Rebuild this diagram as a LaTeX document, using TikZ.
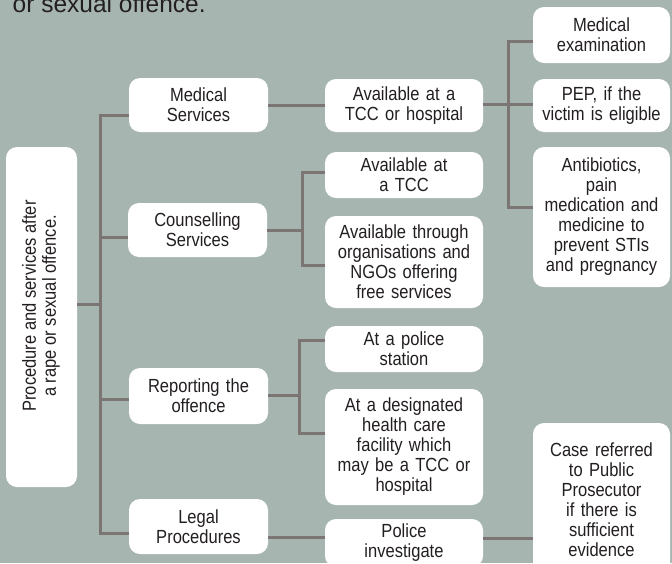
\documentclass[tikz,border=0pt]{standalone}
\usepackage{fontspec}
\setmainfont[FakeStretch=0.87]{Liberation Sans}
\newfontfamily\titlefont{Liberation Sans}
\definecolor{bgcol}{HTML}{A7B5B1}
\definecolor{linecol}{HTML}{7B7573}
\definecolor{txtcol}{HTML}{231F20}
\tikzset{
  box/.style={fill=white, draw=none, rounded corners=11pt, align=center, inner sep=0pt,
    text=txtcol, font=\fontsize{19}{20}\selectfont},
  lone/.style={box, minimum width=139pt, text width=139pt},
  ltwo/.style={box, minimum width=158pt, text width=158pt},
  lthree/.style={box, minimum width=137pt, text width=137pt},
  conn/.style={draw=linecol, line width=3pt, line join=miter}
}
\begin{document}
\begin{tikzpicture}[x=1pt,y=-1pt]
\useasboundingbox (0,0) rectangle (672,563);
\clip (0,0) rectangle (672,563);
\fill[bgcol] (0,0) rectangle (672,563);

% title fragment
\node[anchor=base west, inner sep=0pt, text=txtcol, font=\titlefont\fontsize{24.5}{28}\selectfont] (title) at (12.5,12) {or sexual offence.};

% root
\node[box, minimum width=71pt, minimum height=340pt] (root) at (41.5,317) {};
\node[rotate=90, align=center, inner sep=0pt, text=txtcol, font=\fontsize{19}{20}\selectfont] (rootlabel) at (41,306) {Procedure and services after\\a rape or sexual offence.};

% level 1
\node[lone, minimum height=54pt] (med) at (198.5,105) {Medical\\Services};
\node[lone, minimum height=54pt] (couns) at (197.5,230) {Counselling\\Services};
\node[lone, minimum height=56pt] (rep) at (198.5,396) {Reporting the\\offence};
\node[lone, minimum height=55pt] (legal) at (198.5,526.5) {Legal\\Procedures};

% level 2
\node[ltwo, minimum height=53pt] (a1) at (404,105.5) {Available at a\\TCC or hospital};
\node[ltwo, minimum height=46pt] (a2) at (404,175) {Available at\\a TCC};
\node[ltwo, minimum height=92pt] (a3) at (404,262) {Available through\\organisations and\\NGOs offering\\free services};
\node[ltwo, minimum height=46pt] (a4) at (404,349) {At a police\\station};
\node[ltwo, minimum height=116pt] (a5) at (404,447) {At a designated\\health care\\facility which\\may be a TCC or\\hospital};
\node[ltwo, minimum height=48pt] (a6) at (404,543) {Police\\investigate};

% level 3
\node[lthree, minimum height=56pt] (b1) at (601.5,35) {Medical\\examination};
\node[lthree, minimum height=53pt] (b2) at (601.5,105.5) {PEP, if the\\victim is eligible};
\node[lthree, minimum height=140pt] (b3) at (601.5,217) {Antibiotics,\\pain\\medication and\\medicine to\\prevent STIs\\and pregnancy};
\node[lthree, minimum height=154pt] (b4) at (601.5,500) {Case referred\\to Public\\Prosecutor\\if there is\\sufficient\\evidence};

% junction coordinates
\coordinate (troot) at (100,304);
\coordinate (tmed) at (100,115);
\coordinate (tcouns) at (100,237);
\coordinate (trep) at (100,399);
\coordinate (tlegal) at (100,533);
\coordinate (mtop) at (508,41);
\coordinate (mbot) at (508,207);
\coordinate (ctop) at (302,172);
\coordinate (cmid) at (302,230);
\coordinate (cbot) at (302,265);
\coordinate (rtop) at (299,340);
\coordinate (rmid) at (299,395);
\coordinate (rbot) at (299,433);

% connectors
\draw[conn] (root.east |- troot) -- (troot);
\draw[conn] (med.west |- tmed) -- (tmed) -- (tlegal) -- (legal.west |- tlegal);
\draw[conn] (tcouns) -- (couns.west |- tcouns);
\draw[conn] (trep) -- (rep.west |- trep);

\draw[conn] (med.east |- 0,105) -- (a1.west |- 0,105);
\draw[conn] (a1.east |- 0,104) -- (b2.west |- 0,104);
\draw[conn] (b1.west |- mtop) -- (mtop) -- (mbot) -- (b3.west |- mbot);

\draw[conn] (couns.east |- cmid) -- (cmid);
\draw[conn] (a2.west |- ctop) -- (ctop) -- (cbot) -- (a3.west |- cbot);

\draw[conn] (rep.east |- rmid) -- (rmid);
\draw[conn] (a4.west |- rtop) -- (rtop) -- (rbot) -- (a5.west |- rbot);

\draw[conn] (legal.east |- 0,537) -- (a6.west |- 0,537);
\draw[conn] (a6.east |- 0,538) -- (b4.west |- 0,538);
\end{tikzpicture}
\end{document}
